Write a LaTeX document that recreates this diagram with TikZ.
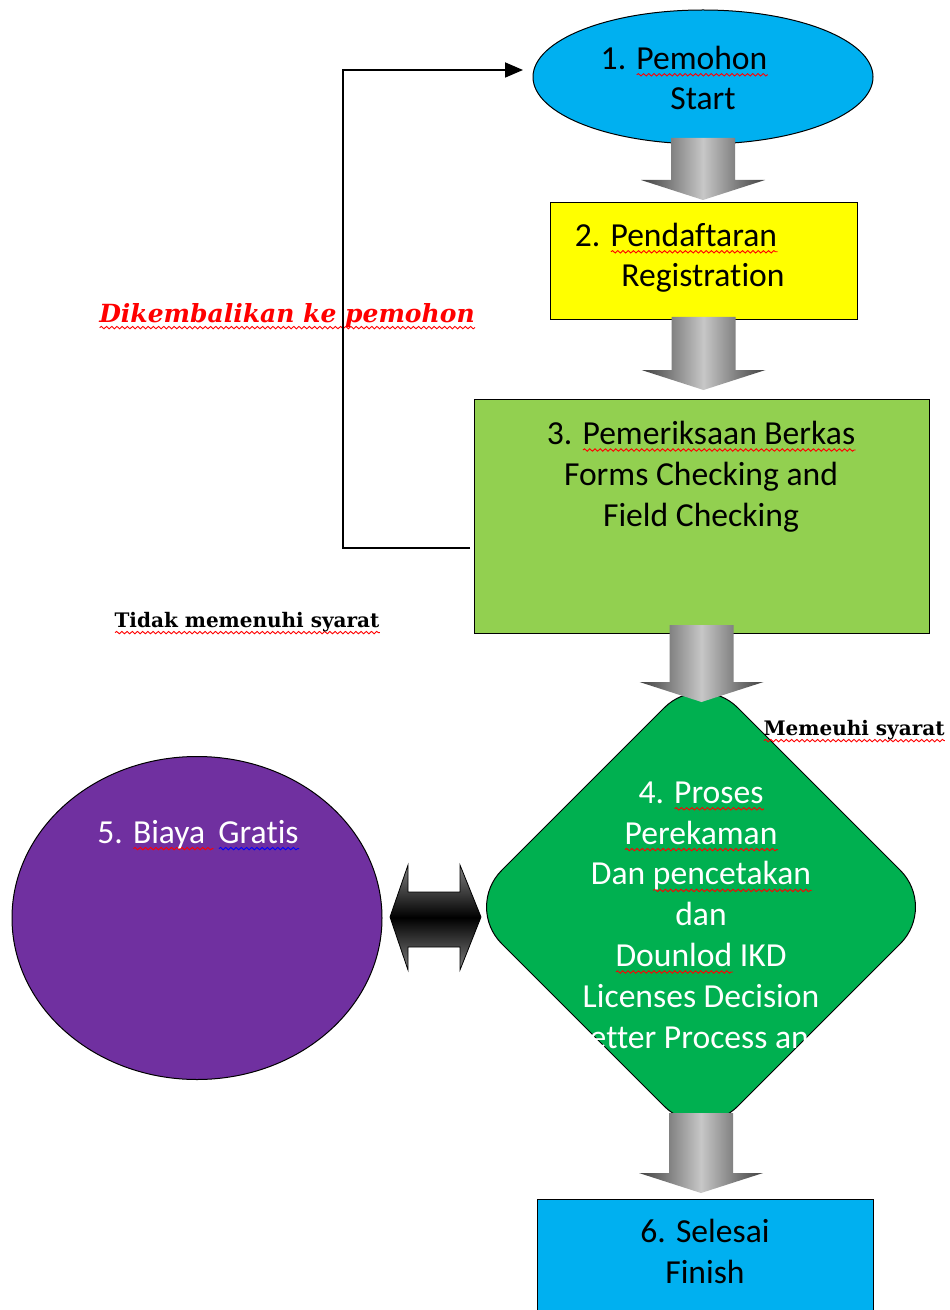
\documentclass[tikz,border=0pt]{standalone}
\usepackage{fontspec}
\setmainfont{Carlito}[Ligatures=NoCommon]
\newfontfamily\slabfont{DejaVu Serif}
\usetikzlibrary{shapes.geometric, arrows.meta, calc, decorations.pathmorphing}

\definecolor{startblue}{HTML}{00B0F0}
\definecolor{regyellow}{HTML}{FFFF00}
\definecolor{chkgreen}{HTML}{92D050}
\definecolor{procgreen}{HTML}{00B050}
\definecolor{costpurple}{HTML}{7030A0}
\definecolor{wavered}{HTML}{FF0000}
\definecolor{waveblue}{HTML}{0000FF}

% spell-check style wavy underlines
\newsavebox{\wavebox}
\newcommand{\wavy}[2]{\sbox{\wavebox}{#2}\rlap{\tikz[baseline=0pt]{\path (0pt,0pt);
    \draw[#1, line width=0.45pt, decorate, decoration={snake, amplitude=0.6pt, segment length=2.6pt}]
    (0pt,-2.8pt) -- (\the\wd\wavebox,-2.8pt);}}\usebox{\wavebox}}
\newcommand{\redwave}[1]{\wavy{wavered}{#1}}
\newcommand{\bluewave}[1]{\wavy{waveblue}{#1}}
\newcommand{\numgap}{\hspace{0.3em}}

% grey block arrow: from node, to node, shaft start shift, tip shift
\newcommand{\blockdown}[4]{%
  \path (#1) ++(0,#3) coordinate (bd-top);
  \path (bd-top |- #2) ++(0,#4) coordinate (bd-tip);
  \shade[blockarrow] ($(bd-top)+(-32,0)$) -- ($(bd-top)+(32,0)$)
    -- ($(bd-tip)+(32,-20)$) -- ($(bd-tip)+(62,-20)$) -- (bd-tip)
    -- ($(bd-tip)+(-62,-20)$) -- ($(bd-tip)+(-32,-20)$) -- cycle;
}

\begin{document}
\begin{tikzpicture}[
      x=0.5pt,
      y=-0.5pt,
      shapebase/.style={
          draw,
          line width=0.5pt,
          inner sep=0pt,
          outer sep=0pt
        },
      startnode/.style={
          shapebase,
          ellipse,
          minimum width=170pt,
          minimum height=67pt,
          fill=startblue
        },
      regbox/.style={
          shapebase,
          rectangle,
          minimum width=153.5pt,
          minimum height=58.5pt,
          fill=regyellow
        },
      checkbox/.style={
          shapebase,
          rectangle,
          minimum width=227.5pt,
          minimum height=117pt,
          fill=chkgreen
        },
      procnode/.style={
          shapebase,
          diamond,
          aspect=1,
          rounded corners=26pt,
          minimum width=236pt,
          minimum height=236pt,
          fill=procgreen
        },
      costnode/.style={
          shapebase,
          ellipse,
          minimum width=185pt,
          minimum height=161.5pt,
          fill=costpurple
        },
      endbox/.style={
          shapebase,
          rectangle,
          minimum width=168pt,
          minimum height=70pt,
          fill=startblue
        },
      txt/.style={
          align=center,
          anchor=base,
          inner sep=0pt,
          font=\fontsize{16.8}{20.4}\selectfont
        },
      backlabel/.style={
          anchor=base,
          inner sep=0pt,
          text=red,
          font=\slabfont\bfseries\itshape\fontsize{12.5}{15}\selectfont
        },
      condlabel/.style={
          anchor=base,
          inner sep=0pt,
          font=\slabfont\bfseries\fontsize{10}{12}\selectfont
        },
      blockarrow/.style={
          left color=black!75,
          right color=black!75,
          middle color=black!22
        },
      dblarrow/.style={
          draw=black,
          line width=0.4pt,
          top color=black!50,
          bottom color=black!50,
          middle color=black
        },
      loopback/.style={
          -{Triangle[length=9pt,width=7.5pt]},
          line width=0.9pt
        }
    ]
    \useasboundingbox (0,0) rectangle (949,1310);
    \clip (0,0) rectangle (949,1310);

    % Shapes
    \node[startnode] (start) at (703,77) {};
    \node[regbox] (reg) at (703.5,261.5) {};
    \node[checkbox] (chk) at (701.5,516) {};
    \node[procnode] (proc) at (701,907) {};
    \node[costnode] (cost) at (197,918) {};
    \node[endbox] (finish) at (705,1269) {};

    % Texts (placed by the baseline of their last line)
    \node[txt] (starttxt) at (703,110) {1.\numgap\redwave{Pemohon}\hspace*{19pt}\\Start};
    \node[txt] (regtxt) at (703,287) {2.\numgap\redwave{Pendaftaran}\hspace*{27pt}\\Registration};
    \node[txt] (chktxt) at (701,526) {3.\numgap\redwave{Pemeriksaan Berkas}\\Forms Checking and\\Field Checking};
    \node[txt, text=white] (proctxt) at (701,1048) {4.\numgap\redwave{Proses}\\\redwave{Perekaman}\\Dan \redwave{pencetakan}\\dan\\\redwave{Dounlod} IKD\\Licenses Decision\\Letter Process and};
    \node[txt, text=white] (costtxt) at (198,843) {5.\numgap\redwave{Biaya\ }\,\bluewave{Gratis}};
    \node[txt] (finishtxt) at (705,1283) {6.\numgap Selesai\\Finish};

    % Labels
    \node[backlabel] (lblback) at (287,322) {\redwave{Dikembalikan ke pemohon}};
    \node[condlabel] (lblfail) at (247,627) {\redwave{Tidak memenuhi syarat}};
    \node[condlabel] (lblpass) at (854,735) {\redwave{Memeuhi syarat}};

    % Arrows
    \blockdown{start.south}{reg.north}{-6}{-3}
    \blockdown{reg.south}{chk.north}{-3}{-9}
    \blockdown{chk.south}{proc.north}{-8}{31}
    \blockdown{proc.south}{finish.north}{-30}{-6}

    \coordinate (dl) at ($(cost.east)+(8,-1)$);
    \coordinate (dr) at ($(proc.west |- dl)+(16,0)$);
    \shade[dblarrow] (dl) -- ($(dl)+(18,-52)$) -- ($(dl)+(18,-25)$)
      -- ($(dr)+(-21,-25)$) -- ($(dr)+(-21,-52)$) -- (dr)
      -- ($(dr)+(-21,53)$) -- ($(dr)+(-21,30)$) -- ($(dl)+(18,30)$)
      -- ($(dl)+(18,53)$) -- cycle;

    \draw[loopback] ($(chk.west)+(-4,32)$) -- ++(-127,0) |- ($(start.west)+(-10,-7)$);

  \end{tikzpicture}
\end{document}
